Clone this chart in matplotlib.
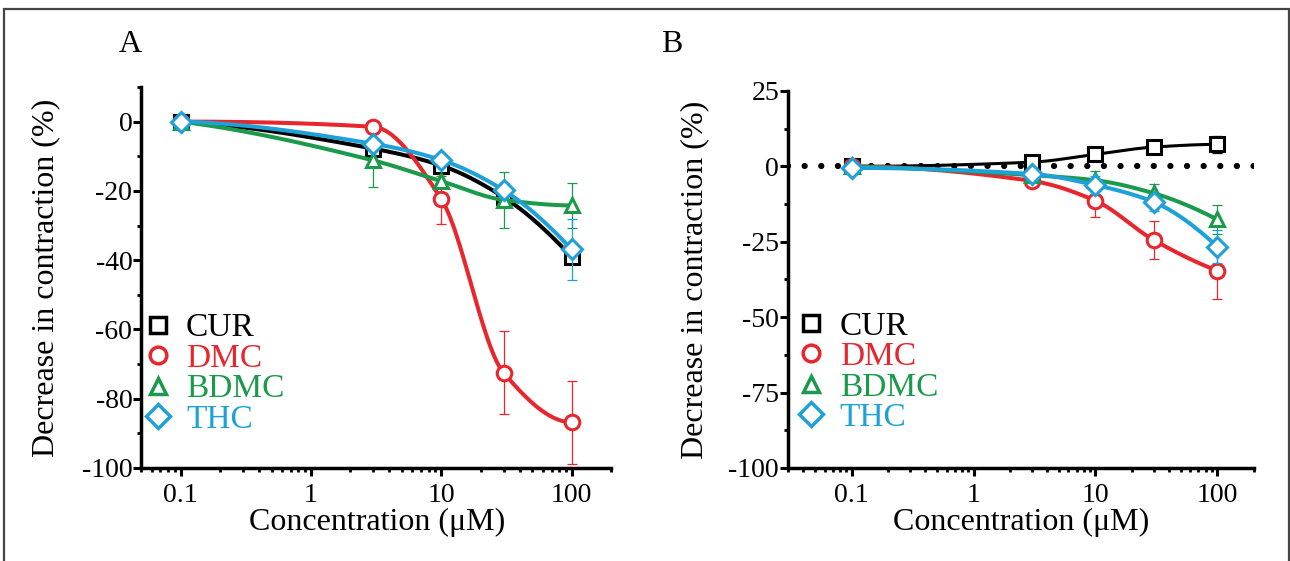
import numpy as np
import matplotlib
matplotlib.use("Agg")
import matplotlib.pyplot as plt
from matplotlib.ticker import LogLocator, FixedLocator, FixedFormatter, NullFormatter, MultipleLocator
from matplotlib.lines import Line2D
from matplotlib.patches import Rectangle

plt.rcParams['font.family'] = ['Liberation Serif', 'DejaVu Serif']
plt.rcParams['axes.unicode_minus'] = False

CONC = [0.1, 3, 10, 30, 100]
NAMES = ["CUR", "DMC", "BDMC", "THC"]
COLORS = {"CUR": "#000000", "DMC": "#e8262d", "BDMC": "#1a9a4a", "THC": "#1da1d8"}
MARKERS = {"CUR": "s", "DMC": "o", "BDMC": "^", "THC": "D"}

# panel A
A_CUR = [0, -7.8, -12.7, -21.8, -39.1]
A_CUR_ERR = [0.5, 1.5, 1.5, 2.0, 2.0]
A_DMC = [0, -1.5, -22.4, -72.5, -86.8]
A_DMC_ERR = [0.5, 1.0, 7.2, 12.0, 12.0]
A_BDMC = [0, -11.2, -17.2, -22.6, -24.2]
A_BDMC_ERR = [0.5, 7.8, 1.5, 8.0, 6.5]
A_THC = [0, -6.4, -11.1, -19.8, -36.9]
A_THC_ERR = [0.5, 1.5, 1.5, 2.0, 8.7]

# panel B
B_CUR = [0, 1.4, 4.0, 6.4, 7.3]
B_CUR_ERR = [0.5, 1.0, 1.0, 1.0, 2.7]
B_DMC = [0, -4.8, -11.4, -24.4, -34.6]
B_DMC_ERR = [0.5, 1.0, 5.3, 6.2, 9.3]
B_BDMC = [0, -2.9, -4.6, -8.9, -17.6]
B_BDMC_ERR = [0.5, 1.0, 3.0, 3.0, 4.9]
B_THC = [-0.5, -2.5, -6.2, -11.8, -26.6]
B_THC_ERR = [0.5, 1.0, 3.0, 3.0, 5.4]

PANEL_A = {"CUR": (A_CUR, A_CUR_ERR), "DMC": (A_DMC, A_DMC_ERR),
           "BDMC": (A_BDMC, A_BDMC_ERR), "THC": (A_THC, A_THC_ERR)}
PANEL_B = {"CUR": (B_CUR, B_CUR_ERR), "DMC": (B_DMC, B_DMC_ERR),
           "BDMC": (B_BDMC, B_BDMC_ERR), "THC": (B_THC, B_THC_ERR)}


def pchip(x, y, xn):
    """monotone cubic through the points (used for the smooth fitted look)"""
    x = np.asarray(x, float); y = np.asarray(y, float)
    h = np.diff(x); dl = np.diff(y) / h
    n = len(x); d = np.zeros(n)
    for k in range(1, n - 1):
        if dl[k - 1] * dl[k] > 0:
            w1 = 2 * h[k] + h[k - 1]; w2 = h[k] + 2 * h[k - 1]
            d[k] = (w1 + w2) / (w1 / dl[k - 1] + w2 / dl[k])
    for i0, (ha, hb, da, db) in ((0, (h[0], h[1], dl[0], dl[1])),
                                 (n - 1, (h[-1], h[-2], dl[-1], dl[-2]))):
        e = ((2 * ha + hb) * da - ha * db) / (ha + hb)
        if np.sign(e) != np.sign(da):
            e = 0
        elif np.sign(da) != np.sign(db) and abs(e) > abs(3 * da):
            e = 3 * da
        d[i0] = e
    idx = np.clip(np.searchsorted(x, xn) - 1, 0, n - 2)
    t = (xn - x[idx]) / h[idx]
    h00 = 2 * t**3 - 3 * t**2 + 1; h10 = t**3 - 2 * t**2 + t
    h01 = -2 * t**3 + 3 * t**2; h11 = t**3 - t**2
    return (h00 * y[idx] + h10 * h[idx] * d[idx]
            + h01 * y[idx + 1] + h11 * h[idx] * d[idx + 1])


fig = plt.figure(figsize=(12.9, 5.61), dpi=100)
axA = fig.add_axes([0.1096, 0.1658, 0.3640, 0.6792])
axB = fig.add_axes([0.6109, 0.1658, 0.3612, 0.6720])

lx = np.log10(CONC)
xs = np.linspace(lx[0], lx[-1], 300)

for ax, data, lims in ((axA, PANEL_A, (0.05, 200, -100, 10)),
                       (axB, PANEL_B, (0.03, 200, -100, 25))):
    if ax is axB:
        ax.axhline(0, color="black", lw=4.5, ls=(0, (0.01, 2.65)),
                   dash_capstyle="round", zorder=1)
    for z, nm in enumerate(NAMES):
        y, e = data[nm]
        c = COLORS[nm]
        lw = 2.2 if (nm == "CUR" and ax is axB) else 2.9
        ax.errorbar(CONC, y, yerr=e, fmt="none", ecolor=c, elinewidth=0.9,
                    capsize=3.5, capthick=0.9, zorder=2 + z)
        ax.plot(10**xs, pchip(lx, y, xs), color=c, lw=lw, zorder=3 + z,
                solid_capstyle="round")
        ax.plot(CONC, y, ls="none", marker=MARKERS[nm], ms=10.5, mew=2.2,
                mec=c, mfc="white", zorder=4 + z)

    ax.set_xscale("log")
    ax.set_xlim(lims[0], lims[1])
    ax.set_ylim(lims[2], lims[3])
    ax.xaxis.set_major_locator(FixedLocator([0.1, 1, 10, 100]))
    ax.xaxis.set_major_formatter(FixedFormatter(["0.1", "1", "10", "100"]))
    ax.xaxis.set_minor_locator(LogLocator(base=10, subs=np.arange(2, 10), numticks=20))
    ax.xaxis.set_minor_formatter(NullFormatter())
    for s in ("top", "right"):
        ax.spines[s].set_visible(False)
    for s in ("left", "bottom"):
        ax.spines[s].set_linewidth(2.5)
    ax.tick_params(which="major", length=5.5, width=2.2, labelsize=20)
    ax.tick_params(axis="x", which="major", pad=5)
    ax.tick_params(axis="y", which="major", pad=1)
    ax.tick_params(which="minor", length=3.0, width=2.0)
    ax.set_xlabel("Concentration (\u03bcM)", fontsize=23)
    ax.set_ylabel("Decrease in contraction (%)", fontsize=23)

axA.yaxis.set_major_locator(MultipleLocator(20))
axA.yaxis.set_minor_locator(MultipleLocator(10))
axB.yaxis.set_major_locator(MultipleLocator(25))
axB.yaxis.set_minor_locator(MultipleLocator(12.5))

axA.xaxis.set_label_coords(0.503, -0.105)
axB.xaxis.set_label_coords(0.501, -0.106)
axA.yaxis.set_label_coords(-0.173, 0.5)
axB.yaxis.set_label_coords(-0.170, 0.5)

for ax, anchor in ((axA, (0.01, 0.407)), (axB, (0.025, 0.416))):
    handles = [Line2D([], [], ls="none", marker=MARKERS[nm], ms=12, mew=2.5,
                      mec=COLORS[nm], mfc="white") for nm in NAMES]
    leg = ax.legend(handles, NAMES, loc="upper left", bbox_to_anchor=anchor,
                    frameon=False, fontsize=24, handlelength=0.7,
                    handletextpad=0.5, labelspacing=0.0, borderpad=0,
                    borderaxespad=0)
    for t, nm in zip(leg.get_texts(), NAMES):
        t.set_color(COLORS[nm])

fig.text(130 / 1290, 1 - 45 / 561, "A", fontsize=23, ha="center", va="center")
fig.text(672 / 1290, 1 - 45 / 561, "B", fontsize=23, ha="center", va="center")

fig.add_artist(Rectangle((4 / 1290, -0.1), 1284.5 / 1290, 1.1 - 9 / 561,
                         transform=fig.transFigure, fill=False,
                         edgecolor="#444444", lw=1.6, clip_on=False))

fig.savefig("out.png", dpi=100)
